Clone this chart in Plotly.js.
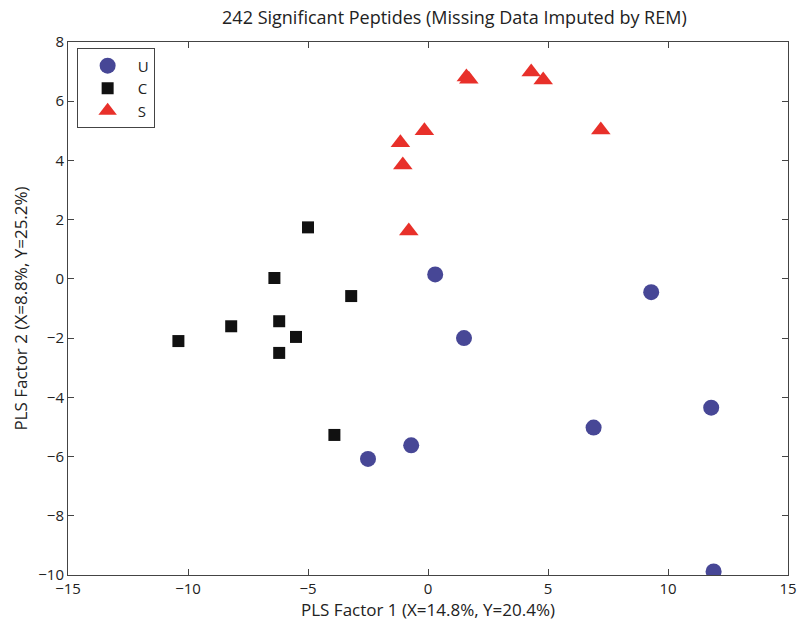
<!DOCTYPE html>
<html>
<head>
<meta charset="utf-8">
<script src="https://cdn.plot.ly/plotly-3.0.1.min.js"></script>
<style>
  html, body { margin: 0; padding: 0; background: #fff; }
  #plot { width: 800px; height: 631px; }
</style>
</head>
<body>
<div id="plot"></div>
<script>
// scores
const uX = [0.3, 1.5, 9.3, 11.8, 6.9, -0.7, -2.5, 11.9];
const uY = [0.15, -2.0, -0.45, -4.35, -5.02, -5.62, -6.08, -9.88];

const cX = [-5.0, -6.4, -3.2, -8.2, -10.4, -6.2, -5.5, -6.2, -3.9];
const cY = [1.74, 0.03, -0.58, -1.6, -2.1, -1.43, -1.96, -2.5, -5.27];

const sX = [1.6, 1.7, 4.3, 4.8, 7.2, -0.15, -1.15, -1.05, -0.8];
const sY = [6.82, 6.74, 6.99, 6.72, 5.03, 5.0, 4.6, 3.85, 1.62];

const fontFam = '"Open Sans", "DejaVu Sans", sans-serif';

const traces = [
  {
    x: uX, y: uY, name: 'U', type: 'scatter', mode: 'markers',
    marker: { symbol: 'circle', size: 16, color: '#474796' }
  },
  {
    x: cX, y: cY, name: 'C', type: 'scatter', mode: 'markers',
    marker: { symbol: 'square', size: 12, color: '#111111' }
  },
  {
    x: sX, y: sY, name: 'S', type: 'scatter', mode: 'markers',
    marker: { symbol: 'triangle-up', size: 17, color: '#e8302a' }
  }
];

const axisCommon = {
  showgrid: false,
  zeroline: false,
  showline: true,
  linecolor: '#444',
  linewidth: 1,
  mirror: 'ticks',
  ticks: 'inside',
  ticklen: 6,
  tickcolor: '#444',
  tickfont: { size: 15, color: '#222', family: fontFam }
};

Plotly.newPlot('plot', traces, {
  width: 800,
  height: 631,
  paper_bgcolor: '#fff',
  plot_bgcolor: '#fff',
  font: { family: fontFam, color: '#222' },
  title: {
    text: '242 Significant Peptides (Missing Data Imputed by REM)',
    font: { size: 18, family: fontFam, color: '#222' },
    xref: 'container', x: 0.568, xanchor: 'center',
    yref: 'container', y: 0.972, yanchor: 'middle'
  },
  xaxis: Object.assign({}, axisCommon, {
    range: [-15, 15],
    tickvals: [-15, -10, -5, 0, 5, 10, 15],
    ticktext: ['\u221215', '\u221210', '\u22125', '0', '5', '10', '15'],
    title: { text: 'PLS Factor 1 (X=14.8%, Y=20.4%)', font: { size: 17, family: fontFam, color: '#222' }, standoff: 2 }
  }),
  yaxis: Object.assign({}, axisCommon, {
    range: [-10, 8],
    tickvals: [-10, -8, -6, -4, -2, 0, 2, 4, 6, 8],
    ticktext: ['\u221210', '\u22128', '\u22126', '\u22124', '\u22122', '0', '2', '4', '6', '8'],
    title: { text: 'PLS Factor 2 (X=8.8%, Y=25.2%)', font: { size: 17, family: fontFam, color: '#222' }, standoff: 6 }
  }),
  legend: {
    x: 0.012, y: 0.988, xanchor: 'left', yanchor: 'top',
    bgcolor: '#fff', bordercolor: '#444', borderwidth: 1,
    font: { size: 15, family: fontFam, color: '#222' },
    tracegroupgap: 0,
    itemwidth: 50
  },
  margin: { l: 68, r: 12, t: 42, b: 56 },
  showlegend: true
}, { displayModeBar: false });
</script>
</body>
</html>
